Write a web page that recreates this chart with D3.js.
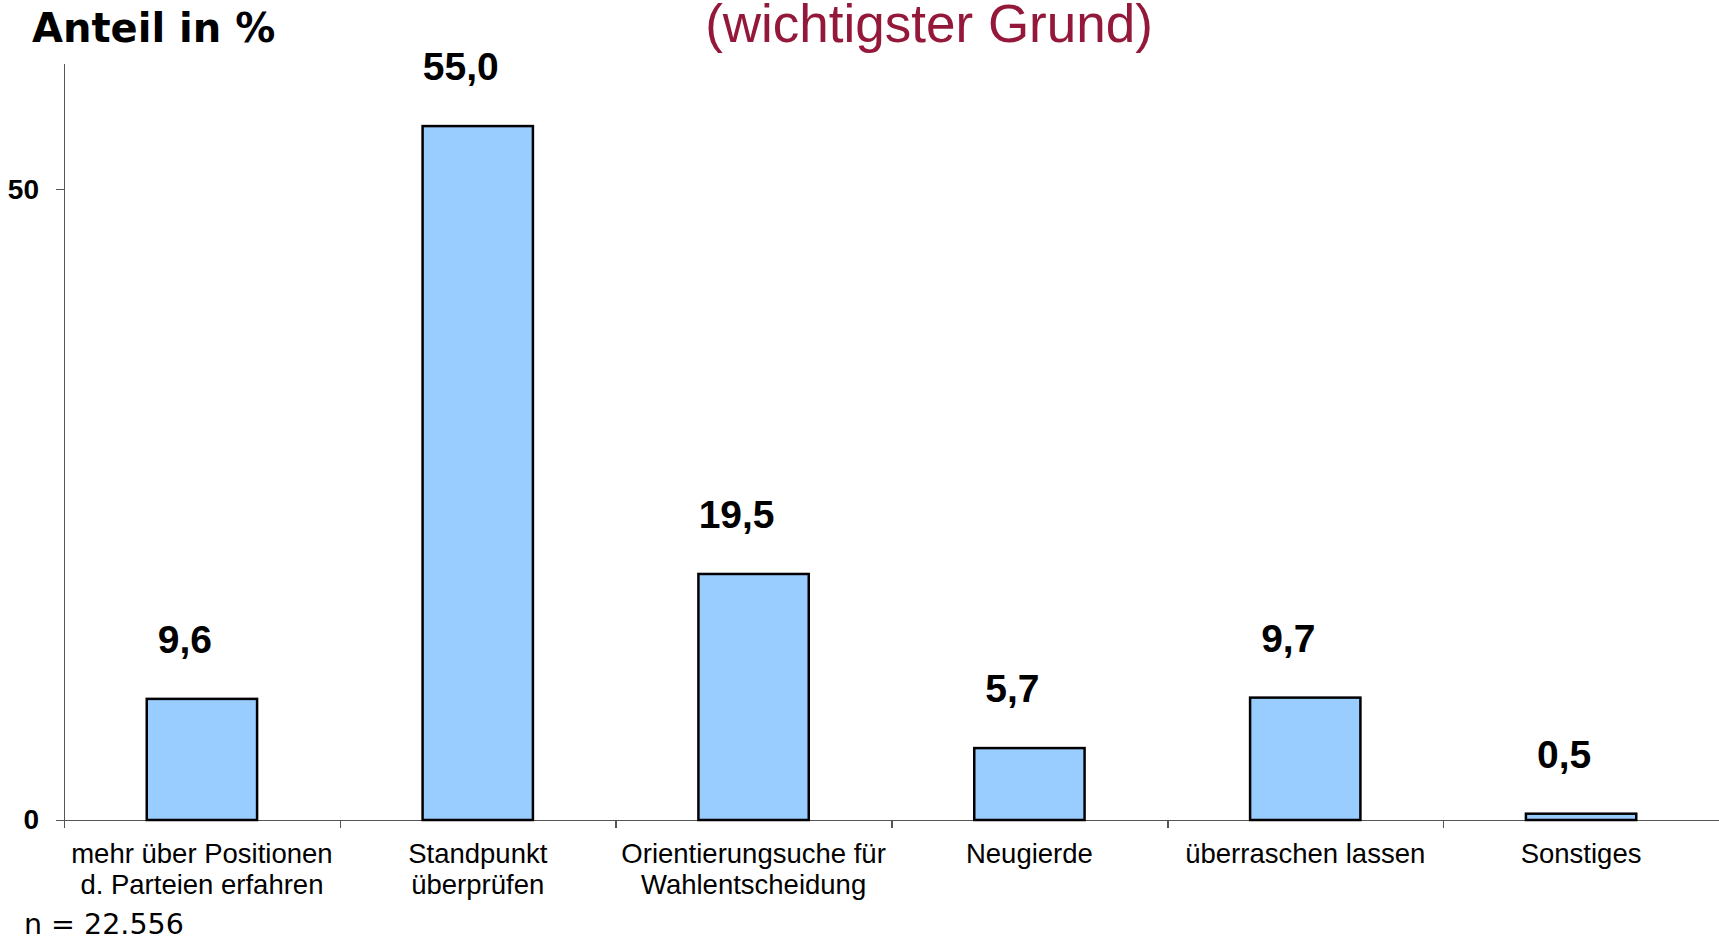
<!DOCTYPE html>
<html>
<head>
<meta charset="utf-8">
<script src="https://cdn.jsdelivr.net/npm/d3@7"></script>
<style>
  body { margin: 0; background: #fff; }
  .axis path, .axis line { stroke: #555; stroke-width: 1.5; shape-rendering: crispEdges; }
</style>
</head>
<body>
<svg width="1719" height="938"></svg>
<script>
// data
var categories = [
    "mehr über Positionen\nd. Parteien erfahren",
    "Standpunkt\nüberprüfen",
    "Orientierungsuche für\nWahlentscheidung",
    "Neugierde",
    "überraschen lassen",
    "Sonstiges"
];
var values = [9.6, 55.0, 19.5, 5.7, 9.7, 0.5];
var yTicks = [0, 50];
var yTitle = "Anteil in %";
var subTitle = "(wichtigster Grund)";
var note = "n = 22.556";

var svg = d3.select("svg"),
    plot = { left: 64, right: 1719, top: 63, bottom: 820 };

var x = d3.scaleBand()
    .domain(categories)
    .range([plot.left, plot.right])
    .paddingInner(0.6)
    .paddingOuter(0.3);

var y = d3.scaleLinear()
    .domain([0, 60])
    .range([plot.bottom, plot.top]);

// boundaries between categories (Excel style ticks)
var xb = d3.scaleLinear().domain([0, categories.length]).range([plot.left, plot.right]);

svg.append("g")
    .attr("class", "axis")
    .attr("transform", "translate(0," + plot.bottom + ")")
    .call(d3.axisBottom(xb)
        .tickValues(d3.range(categories.length))
        .tickSize(8)
        .tickSizeOuter(0)
        .tickFormat(""));

var ya = svg.append("g")
    .attr("class", "axis")
    .attr("transform", "translate(" + plot.left + ",0)")
    .call(d3.axisLeft(y)
        .tickValues(yTicks)
        .tickSize(8)
        .tickSizeOuter(0)
        .tickPadding(17));
ya.selectAll("text")
    .attr("fill", "#000")
    .style("font", "bold 28px 'Liberation Sans', Arial, sans-serif");

// bars
svg.selectAll(".bar")
    .data(values)
    .enter().append("rect")
    .attr("class", "bar")
    .attr("x", function (d, i) { return x(categories[i]); })
    .attr("y", function (d) { return y(d); })
    .attr("width", x.bandwidth())
    .attr("height", function (d) { return plot.bottom - y(d); })
    .attr("fill", "#99CCFF")
    .attr("stroke", "#000")
    .attr("stroke-width", 2.5);

// value labels
svg.selectAll(".val")
    .data(values)
    .enter().append("text")
    .attr("class", "val")
    .attr("x", function (d, i) { return x(categories[i]) + x.bandwidth() / 2 - 17; })
    .attr("y", function (d) { return y(d) - 46; })
    .attr("text-anchor", "middle")
    .style("font", "bold 39px 'Liberation Sans', Arial, sans-serif")
    .text(function (d) { return d.toFixed(1).replace(".", ","); });

// category labels
var cl = svg.selectAll(".cat")
    .data(categories)
    .enter().append("text")
    .attr("class", "cat")
    .attr("text-anchor", "middle")
    .style("font", "27.5px 'Liberation Sans', Arial, sans-serif");
cl.selectAll("tspan")
    .data(function (d) { return d.split("\n"); })
    .enter().append("tspan")
    .attr("x", function () { var c = d3.select(this.parentNode).datum(); return x(c) + x.bandwidth() / 2; })
    .attr("y", function (d, i) { return 863 + i * 31; })
    .text(function (d) { return d; });

// titles
svg.append("text")
    .attr("x", 32).attr("y", 42)
    .style("font", "bold 40px 'DejaVu Sans', Verdana, sans-serif")
    .text(yTitle);

svg.append("text")
    .attr("x", 929).attr("y", 42)
    .attr("text-anchor", "middle")
    .attr("fill", "#94183A")
    .style("font", "53px 'Liberation Sans', Arial, sans-serif")
    .text(subTitle);

svg.append("text")
    .attr("x", 24).attr("y", 934)
    .style("font", "28.5px 'DejaVu Sans', Verdana, sans-serif")
    .text(note);
</script>
</body>
</html>
